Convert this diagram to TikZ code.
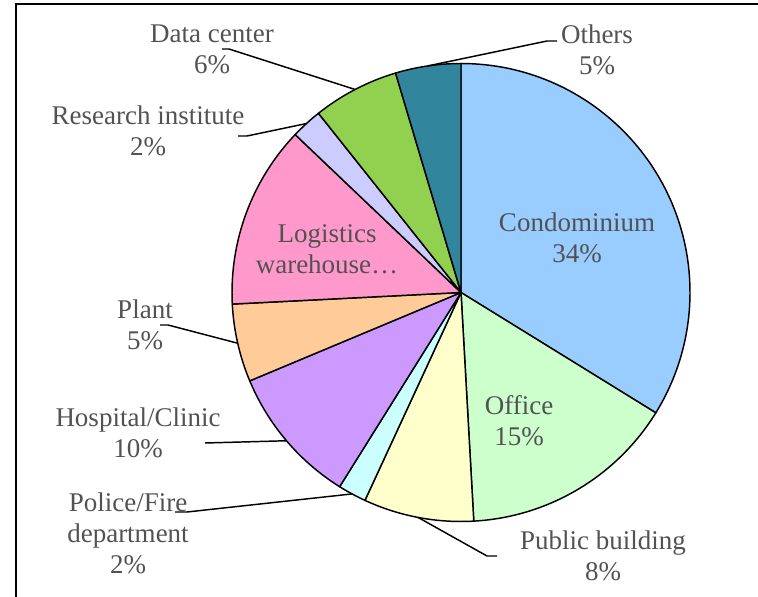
\documentclass[tikz,border=0pt]{standalone}
\usepackage{fontspec}
\setmainfont{Liberation Serif}
\usepackage{xcolor}
\def\pieradius{229}
\definecolor{condo}{HTML}{99CCFF}
\definecolor{office}{HTML}{CCFFCC}
\definecolor{public}{HTML}{FFFFCC}
\definecolor{police}{HTML}{CCFFFF}
\definecolor{hospital}{HTML}{CC99FF}
\definecolor{plant}{HTML}{FFCC99}
\definecolor{logistics}{HTML}{FF99CC}
\definecolor{research}{HTML}{CCCCFF}
\definecolor{datacenter}{HTML}{92D050}
\definecolor{others}{HTML}{31859C}
\colorlet{slice edge}{black}
\colorlet{label text}{black!68}
\tikzset{slice/.style={draw=slice edge, line width=1.1pt, line join=round},
    leader/.style={draw=black, line width=1.1pt},
    pielabel/.style={text=label text, align=center, inner sep=0pt,
      font=\fontsize{20.25}{23.25}\selectfont}}

\begin{document}
\begin{tikzpicture}[x=0.75pt,y=0.75pt]
    \useasboundingbox (0,0) rectangle (758,597);
    \coordinate (c) at (461,304.5);
    % slices, clockwise from the top
    \foreach \from/\to/\col/\id in {90/-31.7/condo/condo, -31.7/-86.8/office/office,
        -86.8/-114.8/public/public, -114.8/-122/police/police,
        -122/-157.3/hospital/hospital, -157.3/-177.1/plant/plant,
        -177.1/-223.6/logistics/logistics, -223.6/-231.5/research/research,
        -231.5/-253.4/datacenter/data, -253.4/-270/others/others}
    {
        \filldraw[slice, fill=\col] (c) -- ++(\from:\pieradius)
          arc[start angle=\from, end angle=\to, radius=\pieradius] -- cycle;
        \path (c) ++({(\from+\to)/2}:\pieradius) coordinate (edge-\id);
    }
    % labels
    \node[pielabel] (lab-condo)     at (577,359)   {Condominium\\34\%};
    \node[pielabel] (lab-office)    at (519,176)   {Office\\15\%};
    \node[pielabel] (lab-logistics) at (327,348)   {Logistics\\warehouse…};
    \node[pielabel] (lab-data)      at (212,547.5) {Data center\\6\%};
    \node[pielabel] (lab-others)    at (597,547)   {Others\\5\%};
    \node[pielabel] (lab-research)  at (148,466)   {Research institute\\2\%};
    \node[pielabel] (lab-plant)     at (145,272)   {Plant\\5\%};
    \node[pielabel] (lab-hospital)  at (138,164)   {Hospital/Clinic\\10\%};
    \node[pielabel] (lab-police)    at (128,64)    {Police/Fire\\department\\2\%};
    \node[pielabel] (lab-public)    at (603,41)    {Public building\\8\%};
    % leader lines
    \coordinate (lead-data)     at (222,548);
    \coordinate (lead-others)   at (557,556);
    \coordinate (lead-research) at (238,461);
    \coordinate (lead-plant)    at (160,272);
    \coordinate (lead-hospital) at (205,154);
    \coordinate (lead-police)   at (175,85);
    \coordinate (lead-public)   at (497,41);
    \draw[leader] (lead-data) -- ++(7,0) -- (edge-data);
    \draw[leader] (lead-others) -- ++(-10,0) -- (edge-others);
    \draw[leader] (lead-research) -- ++(9,0) -- (edge-research);
    \draw[leader] (lead-plant) -- ++(8,0) -- (edge-plant);
    \draw[leader] (lead-hospital) -- (edge-hospital);
    \draw[leader] (lead-police) -- ++(12,0) -- (edge-police);
    \draw[leader] (lead-public) -- ++(-10,0) -- (edge-public);
    % chart frame
    \draw[line width=1.5pt] (16,0) -- (16,592.5) -- (758,592.5);
\end{tikzpicture}
\end{document}
